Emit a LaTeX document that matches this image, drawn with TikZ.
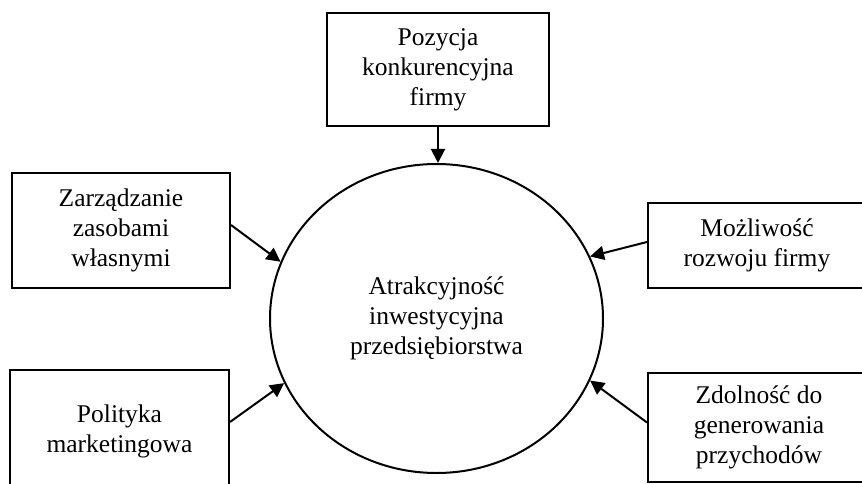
\documentclass[tikz,border=0pt]{standalone}
\usepackage{fontspec}
\setmainfont{Liberation Serif}
\usetikzlibrary{arrows.meta,shapes.geometric,calc}

\begin{document}
\begin{tikzpicture}[x=1pt,y=-1pt,
  txt/.style={align=center,font=\fontsize{25.5}{30}\selectfont},
  box/.style={txt,draw,rectangle,line width=2pt,inner sep=0pt},
  hub/.style={txt,draw,ellipse,line width=2pt,inner sep=0pt},
  conn/.style={line width=2pt,-{Triangle[length=14pt,width=14pt]}}
]
\useasboundingbox (0,0) rectangle (862,484);
\clip (0,0) rectangle (862,484);

% central factor
\node[hub,minimum width=333pt,minimum height=309pt] (atr) at (436.5,318.5)
  {Atrakcyjność\\inwestycyjna\\przedsiębiorstwa};

% surrounding factors
\node[box,minimum width=222pt,minimum height=113pt] (poz) at (438,69.5)
  {Pozycja\\konkurencyjna\\firmy};
\node[box,minimum width=218pt,minimum height=115pt] (zar) at (121,230.5)
  {Zarządzanie\\zasobami\\własnymi};
\node[box,minimum width=219pt,minimum height=122pt] (pol) at (119.5,431)
  {Polityka\\marketingowa};
\node[box,minimum width=218pt,minimum height=85pt] (moz) at (757,245.5)
  {Możliwość\\rozwoju firmy};
\node[box,minimum width=222pt,minimum height=109pt] (zdo) at (759,427.5)
  {Zdolność do\\generowania\\przychodów};

% influences
\draw[conn] (poz.south) -- (poz.south |- atr.north);
\draw[conn] ($(zar.east)+(0,-5.5)$) -- (atr.160);
\draw[conn] ($(pol.east)+(0,-9)$) -- (atr.203);
\draw[conn] ($(moz.west)+(0,-3.5)$) -- (atr.22.5);
\draw[conn] ($(zdo.west)+(0,-5)$) -- (atr.338);
\end{tikzpicture}
\end{document}
